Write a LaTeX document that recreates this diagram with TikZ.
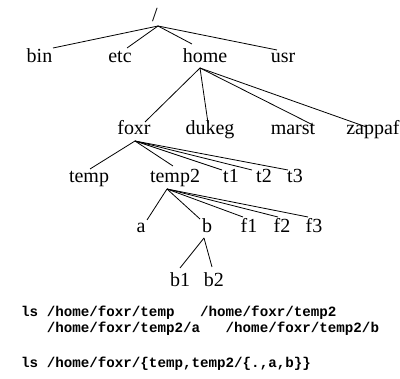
\documentclass[tikz,border=0pt]{standalone}
\usepackage{fontspec}
\setmainfont{Liberation Serif}
\setmonofont{Liberation Mono}
\begin{document}
\begin{tikzpicture}[x=1pt,y=-1pt,
  dir/.style={anchor=base,inner sep=0pt,font=\fontsize{20}{24}\selectfont},
  cmd/.style={anchor=base west,inner sep=0pt,font=\fontsize{14.2}{17}\selectfont\ttfamily\bfseries},
  link/.style={line width=0.8pt}]
\useasboundingbox (0,0) rectangle (400,379);

% directory names, placed by their baselines
\node[dir] (root)   at (155,21.5) {/};
\node[dir] (bin)    at (39.5,63) {bin};
\node[dir] (etc)    at (120,63) {etc};
\node[dir] (home)   at (205,63) {home};
\node[dir] (usr)    at (283,63) {usr};
\node[dir] (foxr)   at (134,135) {foxr};
\node[dir] (dukeg)  at (210,135) {dukeg};
\node[dir] (marst)  at (293,135) {marst};
\node[dir] (zappaf) at (373,135) {zappaf};
\node[dir] (temp)   at (89,183) {temp};
\node[dir] (temp2)  at (175,183) {temp2};
\node[dir] (t1)     at (231,183) {t1};
\node[dir] (t2)     at (264,183) {t2};
\node[dir] (t3)     at (295,183) {t3};
\node[dir] (a)      at (141,233) {a};
\node[dir] (b)      at (207,233) {b};
\node[dir] (f1)     at (249,233) {f1};
\node[dir] (f2)     at (282,233) {f2};
\node[dir] (f3)     at (314,233) {f3};
\node[dir] (b1)     at (180,287) {b1};
\node[dir] (b2)     at (214,287) {b2};

% tree links, from a point under the parent to a point over the child
\foreach \c/\dx/\dy in {bin/13.5/-15, etc/7/-15, home/-13/-19, usr/-6/-13}
  \draw[link] ([shift={(3,4.5)}]root.base) -- ([shift={(\dx,\dy)}]\c.base);
\foreach \c/\dx/\dy in {foxr/11/-13, dukeg/-2/-12, marst/20/-10, zappaf/-6.5/-8}
  \draw[link] ([shift={(-5,5)}]home.base) -- ([shift={(\dx,\dy)}]\c.base);
\foreach \c/\dx/\dy in {temp/1/-14, temp2/-2/-17, t1/-9/-13, t2/-12/-13, t3/-7/-13}
  \draw[link] ([shift={(1,6)}]foxr.base) -- ([shift={(\dx,\dy)}]\c.base);
\foreach \c/\dx/\dy in {a/6/-13, b/-7/-14, f1/-6/-16, f2/-4/-16, f3/-6/-16}
  \draw[link] ([shift={(-8,6)}]temp2.base) -- ([shift={(\dx,\dy)}]\c.base);
\foreach \c/\dx/\dy in {b1/0/-19, b2/-2/-20}
  \draw[link] ([shift={(-3,5)}]b.base) -- ([shift={(\dx,\dy)}]\c.base);

% shell commands
\node[cmd] (ls1)  at (21,317) {ls /home/foxr/temp\ \ \ /home/foxr/temp2};
\node[cmd] (ls1b) at (21,333) {\ \ \ /home/foxr/temp2/a\ \ \ /home/foxr/temp2/b};
\node[cmd] (ls2)  at (21,368) {ls /home/foxr/\{temp,temp2/\{.,a,b\}\}};
\end{tikzpicture}
\end{document}
